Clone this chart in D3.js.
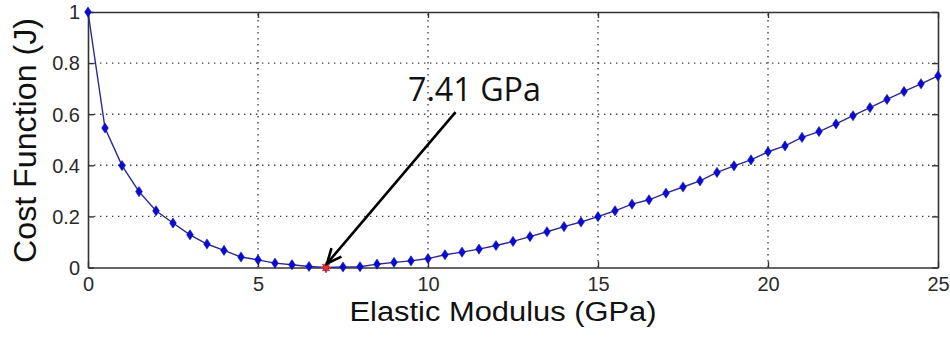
<!DOCTYPE html>
<html>
<head>
<meta charset="utf-8">
<script src="https://cdn.jsdelivr.net/npm/d3@7"></script>
<style>
  html, body { margin: 0; padding: 0; background: #fff; }
  svg { display: block; }
</style>
</head>
<body>
<svg id="chart" width="950" height="341"></svg>
<script>
// ---- data ----
const modulus = [0, 0.5, 1, 1.5, 2, 2.5, 3, 3.5, 4, 4.5, 5, 5.5, 6, 6.5, 7, 7.5, 8, 8.5, 9, 9.5,
  10, 10.5, 11, 11.5, 12, 12.5, 13, 13.5, 14, 14.5, 15, 15.5, 16, 16.5, 17, 17.5, 18, 18.5, 19, 19.5,
  20, 20.5, 21, 21.5, 22, 22.5, 23, 23.5, 24, 24.5, 25];
const cost = [1.000, 0.546, 0.399, 0.297, 0.222, 0.174, 0.128, 0.092, 0.067, 0.041,
  0.030, 0.017, 0.011, 0.004, 0.000, 0.002, 0.003, 0.013, 0.020, 0.026,
  0.035, 0.050, 0.060, 0.072, 0.086, 0.102, 0.121, 0.140, 0.160, 0.178,
  0.199, 0.222, 0.248, 0.265, 0.291, 0.315, 0.339, 0.372, 0.398, 0.421,
  0.453, 0.476, 0.509, 0.532, 0.562, 0.594, 0.626, 0.658, 0.689, 0.719, 0.750];
const xTicks = [0, 5, 10, 15, 20, 25];
const yTicks = [0, 0.2, 0.4, 0.6, 0.8, 1];
const yTickLabels = ["0", "0.2", "0.4", "0.6", "0.8", "1"];
const minPoint = { x: 7, y: 0 };
const annotationText = "7.41 GPa";
const annotationStart = { x: 10.81, y: 0.608 };
const annotationLabelPos = { x: 9.41, y: 0.65 };
const xTitle = "Elastic Modulus (GPa)";
const yTitle = "Cost Function (J)";

// ---- layout ----
const W = 950, H = 341;
const m = { left: 88, right: 12, top: 12, bottom: 73.5 };
const svg = d3.select("#chart");
const x = d3.scaleLinear().domain([0, 25]).range([m.left, W - m.right]);
const y = d3.scaleLinear().domain([0, 1]).range([H - m.bottom, m.top]);
const axisColor = "#333";

// grid
const g = svg.append("g");
g.selectAll("line.vg").data(xTicks.filter(d => d > 0 && d < 25)).join("line")
  .attr("x1", d => x(d)).attr("x2", d => x(d))
  .attr("y1", y(0)).attr("y2", y(1))
  .attr("stroke", "#444").attr("stroke-width", 1.4).attr("stroke-dasharray", "1.4,4.6");
g.selectAll("line.hg").data(yTicks.filter(d => d > 0 && d < 1)).join("line")
  .attr("y1", d => y(d)).attr("y2", d => y(d))
  .attr("x1", x(0)).attr("x2", x(25))
  .attr("stroke", "#444").attr("stroke-width", 1.4).attr("stroke-dasharray", "1.4,4.6");

// axes (MATLAB style: inward ticks on all four sides)
const tl = 6;
const fmtY = d => yTickLabels[yTicks.indexOf(d)];
const axB = svg.append("g").attr("transform", `translate(0,${y(0)})`)
  .call(d3.axisBottom(x).tickValues(xTicks).tickSize(-tl).tickPadding(tl + 7).tickSizeOuter(0));
const axT = svg.append("g").attr("transform", `translate(0,${y(1)})`)
  .call(d3.axisTop(x).tickValues(xTicks).tickSize(-tl).tickFormat("").tickSizeOuter(0));
const axL = svg.append("g").attr("transform", `translate(${x(0)},0)`)
  .call(d3.axisLeft(y).tickValues(yTicks).tickFormat(fmtY).tickSize(-tl).tickPadding(tl + 7).tickSizeOuter(0));
const axR = svg.append("g").attr("transform", `translate(${x(25)},0)`)
  .call(d3.axisRight(y).tickValues(yTicks).tickSize(-tl).tickFormat("").tickSizeOuter(0));
[axB, axT, axL, axR].forEach(a => {
  a.select(".domain").attr("stroke", axisColor).attr("stroke-width", 1.6);
  a.selectAll(".tick line").attr("stroke", axisColor).attr("stroke-width", 1.4);
  a.selectAll("text").attr("fill", "#2a2a2a")
    .style("font-family", "'Liberation Sans', Arial, sans-serif").style("font-size", "20px");
});
axB.selectAll("text").attr("dy", "0.71em").attr("y", 9);
axL.selectAll("text").attr("x", -8).attr("dy", "0.34em");

// line
const line = d3.line().x((d, i) => x(modulus[i])).y(d => y(d));
svg.append("path").datum(cost).attr("d", line)
  .attr("fill", "none").attr("stroke", "#2a2a90").attr("stroke-width", 1.4);

// diamond markers
const diamond = d3.symbol().type(d3.symbolDiamond).size(30);
svg.selectAll("path.mk").data(cost).join("path")
  .attr("class", "mk")
  .attr("transform", (d, i) => `translate(${x(modulus[i])},${y(d)}) scale(1.15,1)`)
  .attr("d", diamond).attr("fill", "#0a0ad2").attr("stroke", "#1010b0").attr("stroke-width", 0.5);

// red star at minimum
const sx = x(minPoint.x), sy = y(minPoint.y), r = 5;
svg.append("path")
  .attr("d", `M${sx - r},${sy}L${sx + r},${sy}M${sx},${sy - r}L${sx},${sy + r}` +
    `M${sx - r * 0.7},${sy - r * 0.7}L${sx + r * 0.7},${sy + r * 0.7}` +
    `M${sx - r * 0.7},${sy + r * 0.7}L${sx + r * 0.7},${sy - r * 0.7}`)
  .attr("stroke", "#e8301c").attr("stroke-width", 1.6).attr("fill", "none");

// annotation arrow
const ax0 = x(annotationStart.x), ay0 = y(annotationStart.y);
const ax1 = x(minPoint.x) + 1, ay1 = y(minPoint.y) - 4;
svg.append("line").attr("x1", ax0).attr("y1", ay0).attr("x2", ax1).attr("y2", ay1)
  .attr("stroke", "#000").attr("stroke-width", 2.6);
const ang = Math.atan2(ay1 - ay0, ax1 - ax0);
const hl = 16, ha = 0.42;
const p1 = [ax1 - hl * Math.cos(ang - ha), ay1 - hl * Math.sin(ang - ha)];
const p2 = [ax1 - hl * Math.cos(ang + ha), ay1 - hl * Math.sin(ang + ha)];
svg.append("path").attr("d", `M${p1[0]},${p1[1]}L${ax1},${ay1}L${p2[0]},${p2[1]}`)
  .attr("stroke", "#000").attr("stroke-width", 2.6).attr("fill", "none")
  .attr("stroke-linejoin", "miter");

svg.append("text").attr("x", x(annotationLabelPos.x)).attr("y", y(annotationLabelPos.y))
  .attr("textLength", 133).attr("lengthAdjust", "spacingAndGlyphs")
  .style("font-family", "'Open Sans', Lato, sans-serif").style("font-size", "32px")
  .attr("fill", "#111").text(annotationText);

// axis titles
svg.append("text").attr("x", 503).attr("y", 321).attr("text-anchor", "middle")
  .attr("textLength", 307).attr("lengthAdjust", "spacingAndGlyphs")
  .style("font-family", "'Liberation Sans', Arial, sans-serif").style("font-size", "27px")
  .attr("fill", "#111").text(xTitle);
svg.append("text").attr("transform", "translate(36,140.5) rotate(-90)").attr("text-anchor", "middle")
  .attr("textLength", 245).attr("lengthAdjust", "spacingAndGlyphs")
  .style("font-family", "'Liberation Sans', Arial, sans-serif").style("font-size", "31px")
  .attr("fill", "#111").text(yTitle);
</script>
</body>
</html>
